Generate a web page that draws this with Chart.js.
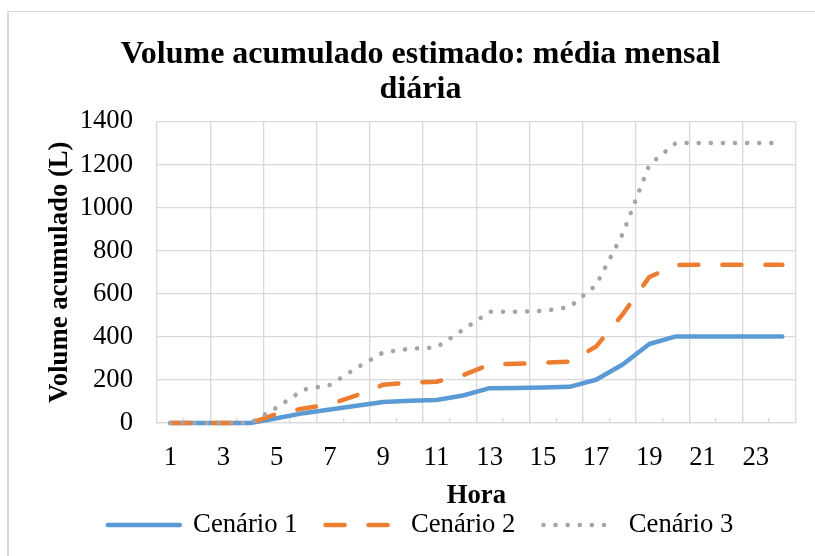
<!DOCTYPE html>
<html>
<head>
<meta charset="utf-8">
<script src="https://cdn.jsdelivr.net/npm/chart.js@4"></script>
<style>
  body { margin: 0; background: #fff; }
  #wrap { position: relative; width: 815px; height: 556px; overflow: hidden; }
  #frame { position: absolute; left: 7px; top: 11px; width: 900px; height: 700px;
           border-left: 2px solid #D9D9D9; border-top: 1px solid #D9D9D9; }
  canvas { position: absolute; left: 0; top: 0; }
</style>
</head>
<body>
<div id="wrap">
  <div id="frame"></div>
  <canvas id="chart" width="815" height="556"></canvas>
</div>
<script>
// hours 1..24
const horas = ['1','2','3','4','5','6','7','8','9','10','11','12',
               '13','14','15','16','17','18','19','20','21','22','23','24'];

// accumulated volume (L)
const cenario1 = [0, 0, 0, 0, 22, 46, 63, 80, 98, 104, 107, 128,
                  162, 163, 165, 168, 201, 272, 367, 402, 402, 402, 402, 402];
const cenario2 = [0, 0, 0, 0, 43, 68, 87, 129, 178, 187, 192, 222,
                  272, 275, 280, 285, 355, 505, 678, 733, 735, 735, 735, 735];
const cenario3 = [0, 0, 0, 0, 72, 155, 177, 256, 328, 345, 351, 433,
                  517, 517, 520, 538, 640, 878, 1199, 1300, 1300, 1300, 1300, 1300];

const seriesNames = ['Cenário 1', 'Cenário 2', 'Cenário 3'];

const FONT = 'Liberation Serif';
const GRID = '#D9D9D9';

Chart.defaults.font.family = FONT;
Chart.defaults.color = '#000';

const lineStyle = {
    borderWidth: 4.5,
    pointRadius: 0,
    pointHoverRadius: 0,
    tension: 0,
    fill: false,
    clip: false,
    borderJoinStyle: 'round',
    borderCapStyle: 'round'
};

// legend entries drawn as short line samples with the series dash pattern
function lineLegendLabels(chart) {
    return chart.data.datasets.map((ds, i) => ({
        text: ds.label,
        strokeStyle: ds.borderColor,
        fillStyle: ds.borderColor,
        lineWidth: ds.borderWidth,
        lineDash: ds.borderDash || [],
        lineCap: 'round',
        pointStyle: 'line',
        hidden: false,
        datasetIndex: i
    }));
}

new Chart(document.getElementById('chart').getContext('2d'), {
    type: 'line',
    data: {
        labels: horas,
        datasets: [
            { ...lineStyle, label: seriesNames[0], data: cenario1, order: 3,
              borderColor: '#5B9BD5', backgroundColor: '#5B9BD5' },
            { ...lineStyle, label: seriesNames[1], data: cenario2, order: 2,
              borderColor: '#ED7D31', backgroundColor: '#ED7D31', borderDash: [19, 24] },
            { ...lineStyle, label: seriesNames[2], data: cenario3, order: 1,
              borderColor: '#A5A5A5', backgroundColor: '#A5A5A5', borderDash: [0.1, 12] }
        ]
    },
    options: {
        responsive: false,
        animation: false,
        layout: { padding: { left: 45.3, right: 19.3, top: 0, bottom: 7.65 } },
        plugins: {
            title: {
                display: true,
                text: ['Volume acumulado estimado: média mensal', 'diária'],
                font: { size: 32, weight: 'bold', lineHeight: 1.1 },
                color: '#000',
                padding: { top: 37, bottom: 14 }
            },
            legend: {
                position: 'bottom',
                labels: {
                    usePointStyle: true,
                    pointStyle: 'line',
                    pointStyleWidth: 72,
                    padding: 28,
                    font: { size: 26.7 },
                    color: '#000',
                    generateLabels: lineLegendLabels
                }
            },
            tooltip: { enabled: false }
        },
        scales: {
            x: {
                offset: true,
                grid: {
                    offset: true,
                    color: ctx => (ctx.index === undefined || ctx.index % 2 === 0) ? GRID : 'rgba(0,0,0,0)',
                    lineWidth: 1.33,
                    tickLength: -5,
                    tickColor: GRID
                },
                border: { color: GRID, width: 1.33 },
                ticks: {
                    autoSkip: false,
                    maxRotation: 0,
                    minRotation: 0,
                    padding: 24.4,
                    font: { size: 26.7 },
                    callback: function (value, index) {
                        return index % 2 === 0 ? this.getLabelForValue(value) : '';
                    }
                },
                title: {
                    display: true,
                    text: 'Hora',
                    font: { size: 26.7, weight: 'bold' },
                    padding: { top: -19, bottom: -28.3 }
                }
            },
            y: {
                min: 0,
                max: 1400,
                grid: { color: GRID, lineWidth: 1.33, drawTicks: false },
                border: { display: false },
                ticks: {
                    stepSize: 200,
                    padding: 24,
                    font: { size: 26.7 },
                    callback: v => String(v)
                },
                title: {
                    display: true,
                    text: 'Volume acumulado (L)',
                    font: { size: 26.7, weight: 'bold' },
                    padding: { top: -1.3, bottom: -20.4 }
                }
            }
        }
    }
});
</script>
</body>
</html>
